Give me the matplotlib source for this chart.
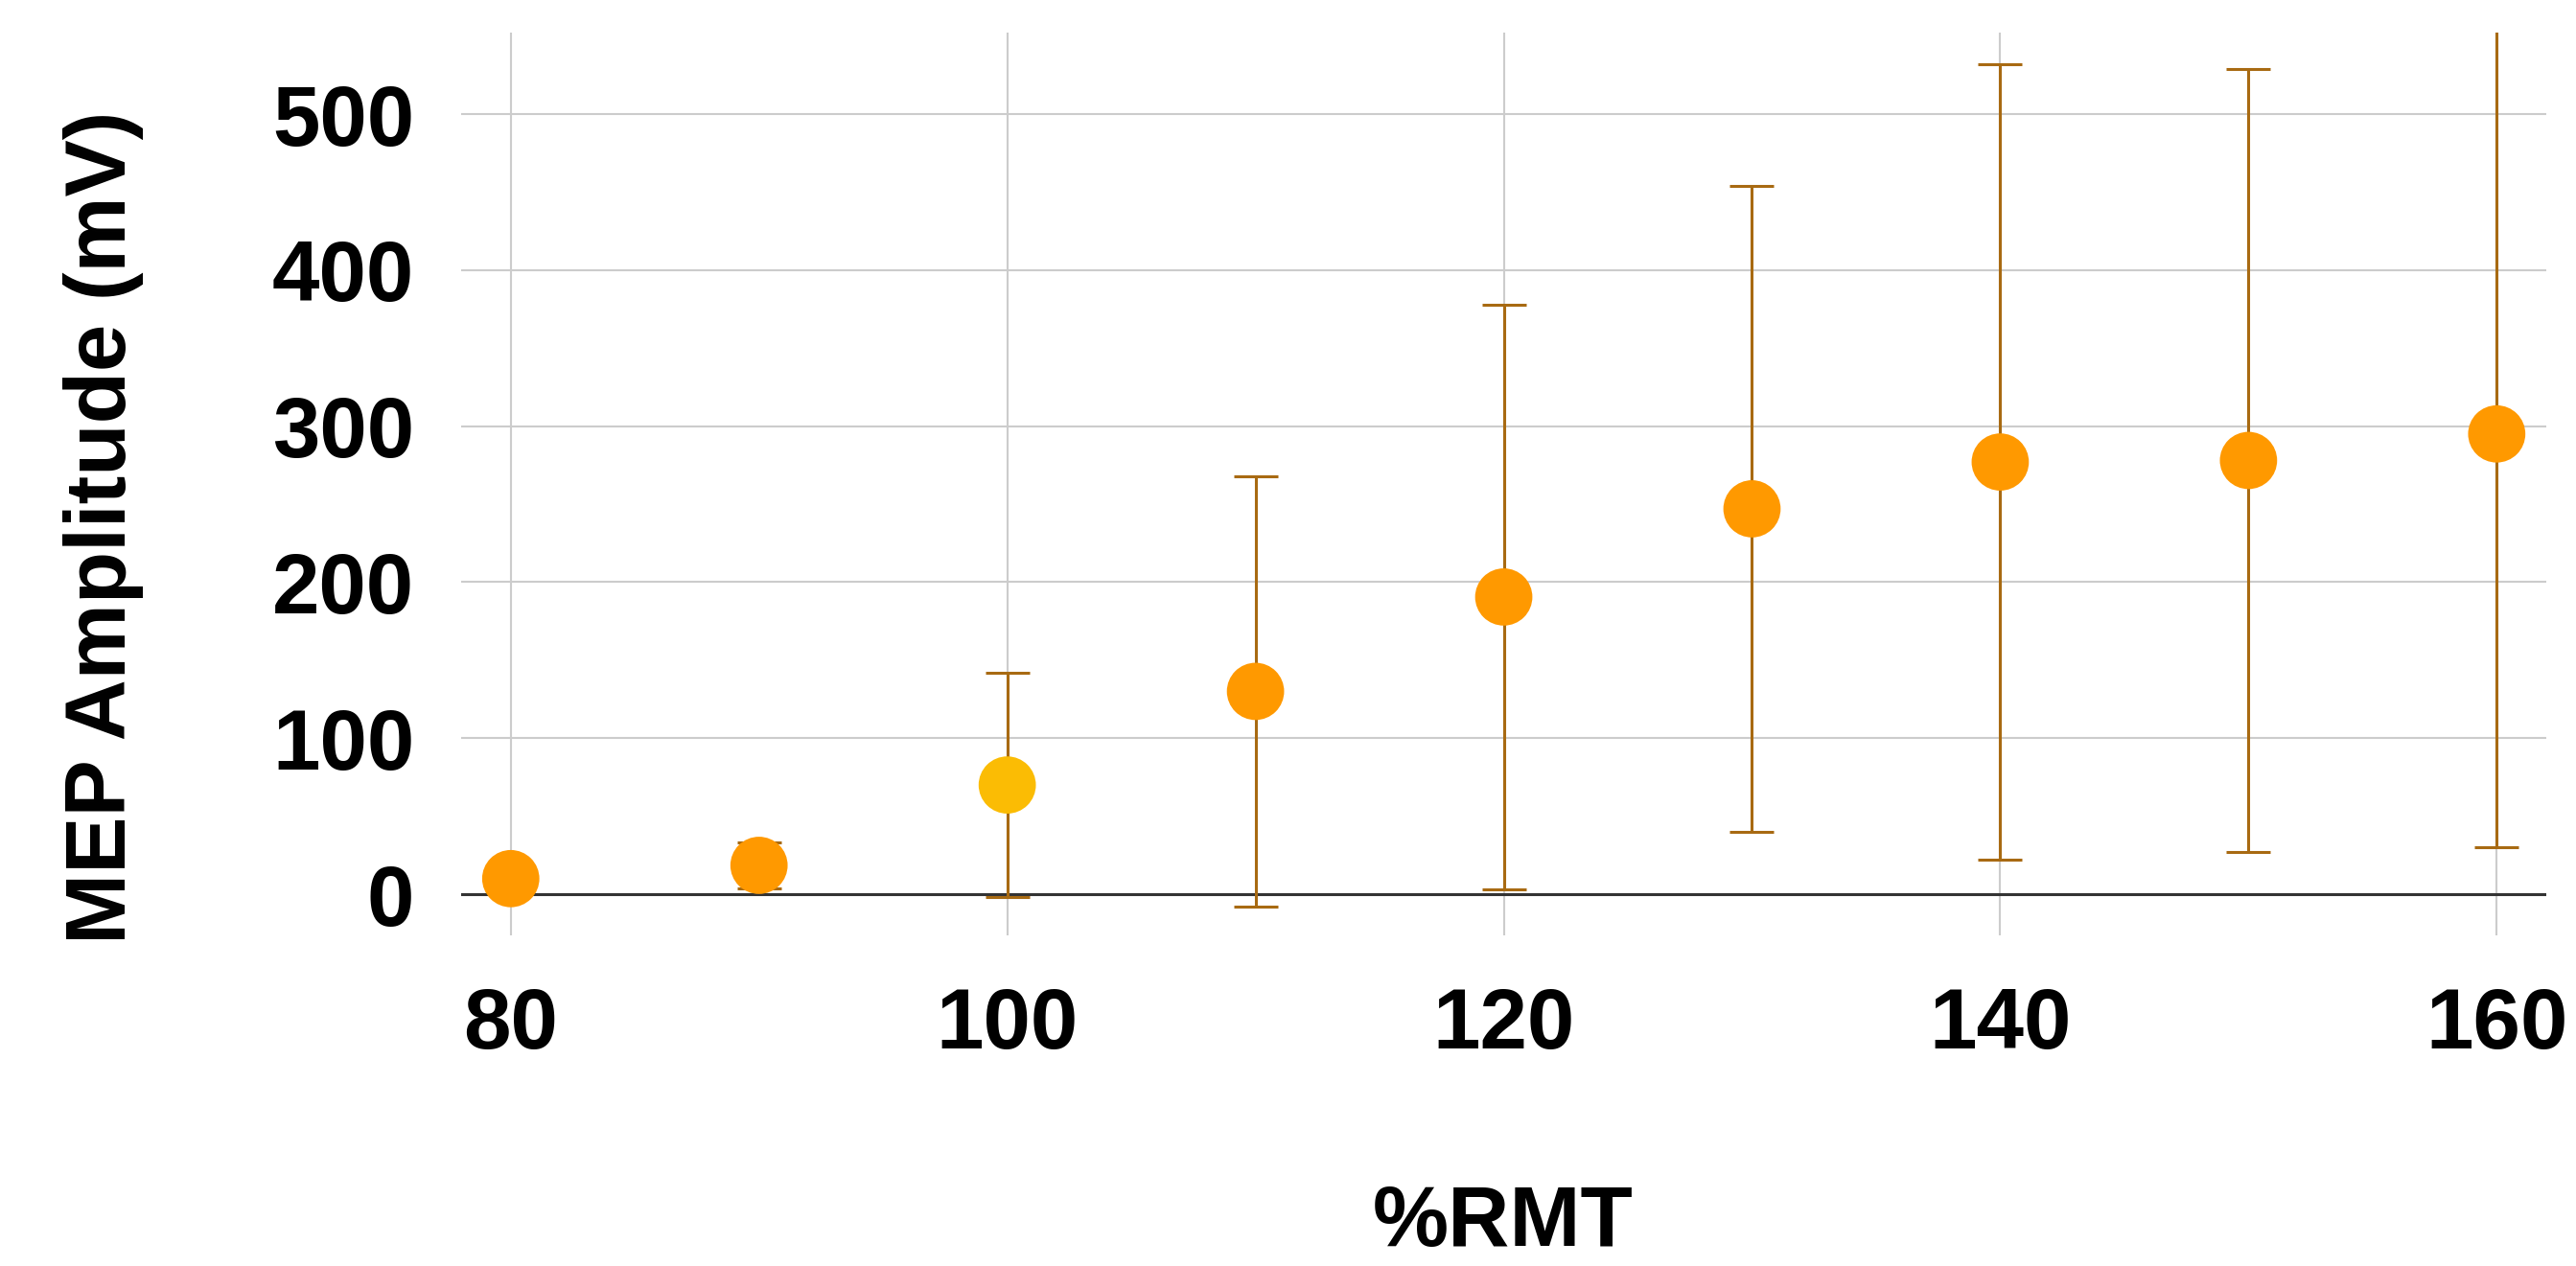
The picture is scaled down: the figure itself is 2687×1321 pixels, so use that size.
import matplotlib.pyplot as plt

rmt = [80, 90, 100, 110, 120, 130, 140, 150, 160]
mep = [10, 18.5, 70, 130, 190.5, 247, 277, 278, 295]
err = [0, 14.5, 72, 138, 187.5, 207, 255, 251, 265]
colors = ['#ff9900', '#ff9900', '#fbbc04', '#ff9900', '#ff9900',
          '#ff9900', '#ff9900', '#ff9900', '#ff9900']

plt.rcParams['font.family'] = ['Liberation Sans', 'DejaVu Sans']
plt.rcParams['font.weight'] = 'bold'

fig = plt.figure(figsize=(26.87, 13.21), dpi=100)
ax = fig.add_axes([0.179, 0.261, 0.8095, 0.713])

ax.errorbar(rmt, mep, yerr=err, fmt='none', ecolor='#a86a12',
            elinewidth=2.2, capsize=16.5, capthick=2.2, zorder=3)
ax.scatter(rmt, mep, s=43**2, c=colors, marker='o', linewidths=0, zorder=4)

ax.set_xlim(78, 162)
ax.set_ylim(-26.5, 552)
ax.set_xticks([80, 100, 120, 140, 160])
ax.set_yticks([0, 100, 200, 300, 400, 500])

ax.grid(True, color='#cccccc', linewidth=1.5, zorder=0)
ax.axhline(0, color='#333333', linewidth=2.2, zorder=2)
ax.set_axisbelow(True)
for s in ax.spines.values():
    s.set_visible(False)

ax.tick_params(axis='both', length=0, labelsize=64)
ax.tick_params(axis='x', pad=38)
ax.tick_params(axis='y', pad=35)

fig.text(0.5835, 1 - 1277 / 1321, '%RMT', ha='center', va='center',
         fontsize=64, fontweight='bold')
fig.text(108 / 2687, 1 - 550 / 1321, 'MEP Amplitude (mV)', ha='center',
         va='center', rotation=90, fontsize=64, fontweight='bold')

fig.savefig('out.png', dpi=100)
